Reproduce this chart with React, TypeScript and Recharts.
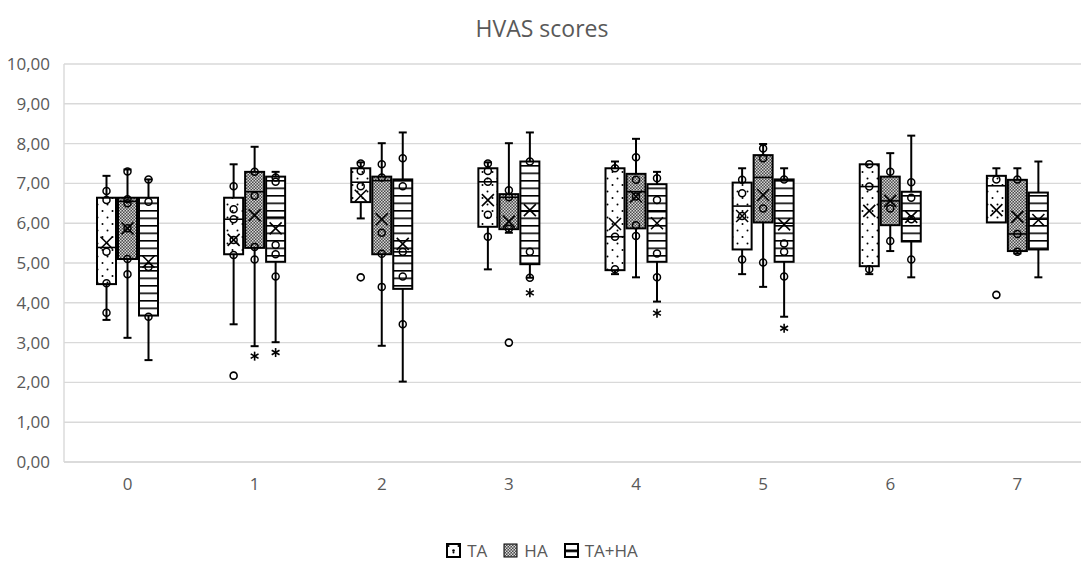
import React from 'react';
import { ComposedChart, Bar, XAxis, YAxis, CartesianGrid, Legend } from 'recharts';

const CATEGORIES = ['0', '1', '2', '3', '4', '5', '6', '7'];
const Y_TICKS = [0, 1, 2, 3, 4, 5, 6, 7, 8, 9, 10];
const SERIES_NAMES = ['TA', 'HA', 'TA+HA'];

// [min, q1, median, q3, max, mean]
const TA_STATS = [
  [3.57, 4.47, 5.39, 6.64, 7.19, 5.51],
  [3.46, 5.22, 6.1, 6.64, 7.48, 5.58],
  [6.12, 6.53, 7.03, 7.38, 7.53, 6.69],
  [4.84, 5.91, 7.04, 7.38, 7.53, 6.58],
  [4.72, 4.82, 5.66, 7.38, 7.55, 5.98],
  [4.72, 5.34, 6.43, 7.02, 7.38, 6.18],
  [4.72, 4.92, 6.92, 7.48, 7.48, 6.31],
  [6.02, 6.02, 6.94, 7.19, 7.38, 6.33],
];
const HA_STATS = [
  [3.12, 5.1, 6.55, 6.64, 7.35, 5.87],
  [2.91, 5.38, 6.79, 7.29, 7.92, 6.2],
  [2.92, 5.22, 7.07, 7.17, 8.01, 6.1],
  [5.76, 5.85, 6.65, 6.73, 8.01, 6.04],
  [4.64, 5.87, 6.79, 7.24, 8.12, 6.67],
  [4.4, 6.02, 7.15, 7.71, 7.99, 6.71],
  [5.3, 5.95, 6.56, 7.17, 7.76, 6.56],
  [5.24, 5.3, 5.73, 7.09, 7.38, 6.16],
];
const TAHA_STATS = [
  [2.56, 3.68, 4.9, 6.64, 7.1, 5.03],
  [3.01, 5.03, 6.15, 7.17, 7.29, 5.87],
  [2.02, 4.35, 5.28, 7.1, 8.28, 5.48],
  [4.63, 4.97, 6.3, 7.55, 8.28, 6.33],
  [4.03, 5.03, 6.29, 6.98, 7.29, 6.0],
  [3.65, 5.03, 6.0, 7.1, 7.38, 5.97],
  [4.64, 5.54, 6.1, 6.79, 8.2, 6.16],
  [4.64, 5.34, 6.1, 6.77, 7.55, 6.08],
];

const TA_POINTS = [
  [6.81, 6.58, 5.28, 4.49, 3.75],
  [6.93, 6.35, 6.1, 5.58, 5.2],
  [7.5, 7.31, 6.93],
  [7.5, 7.31, 7.04, 6.21, 5.66],
  [7.38, 5.66, 4.84],
  [7.09, 6.75, 6.18, 5.09],
  [7.48, 6.92, 4.84],
  [7.1],
];
const HA_POINTS = [
  [7.3, 6.6, 6.5, 5.87, 5.1, 4.72],
  [7.29, 6.69, 5.4, 5.09],
  [7.48, 7.15, 5.76, 5.23, 4.4],
  [6.83, 6.65, 5.86],
  [7.66, 7.09, 6.67, 5.95, 5.68],
  [7.88, 7.63, 6.37, 5.01],
  [7.29, 6.37, 5.55],
  [7.1, 5.73, 5.28],
];
const TAHA_POINTS = [
  [7.1, 6.54, 4.9, 3.65],
  [7.15, 7.04, 5.45, 5.22, 4.66],
  [7.63, 6.93, 5.28, 4.66, 3.46],
  [7.55, 5.28, 4.63],
  [7.13, 6.58, 5.24, 4.64],
  [7.1, 5.49, 5.28, 4.66],
  [7.03, 6.64, 6.1, 5.09],
  [],
];

const TA_OUTLIERS = [[], [2.17], [4.64], [], [], [], [], [4.2]];
const HA_OUTLIERS = [[], [], [], [3.0], [], [], [], []];
const TAHA_OUTLIERS = [[], [], [], [], [], [], [], []];

const TA_STARS = [[], [], [], [], [], [], [], []];
const HA_STARS = [[], [2.66], [], [], [], [], [], []];
const TAHA_STARS = [[], [2.75], [], [4.25], [3.74], [3.36], [], []];

const FONT = '"Open Sans", "Noto Sans", sans-serif';
const GRID = '#d9d9d9';
const TEXT = '#595959';

const rows = CATEGORIES.map((cat, i) => ({ cat, i }));

function makeBoxShape(
  stats: number[][],
  points: number[][],
  outliers: number[][],
  stars: number[][],
  fill: string
) {
  return (props: any) => {
    const { x, y, width, height, payload } = props;
    const i = payload.i;
    const [mn, q1, med, q3, mx, mean] = stats[i];
    const top = Math.min(y, y + height);
    const h = Math.abs(height);
    const ppu = h / (q3 - q1);
    const Y = (v: number) => top + (q3 - v) * ppu;
    const cx = x + width / 2;
    const cap = 4;
    const m = 6;
    return (
      <g>
        {mx > q3 && (
          <g>
            <line x1={cx} x2={cx} y1={Y(mx)} y2={Y(q3)} stroke="#000" strokeWidth={2} />
            <line x1={cx - cap} x2={cx + cap} y1={Y(mx)} y2={Y(mx)} stroke="#000" strokeWidth={2} />
          </g>
        )}
        {mn < q1 && (
          <g>
            <line x1={cx} x2={cx} y1={Y(q1)} y2={Y(mn)} stroke="#000" strokeWidth={2} />
            <line x1={cx - cap} x2={cx + cap} y1={Y(mn)} y2={Y(mn)} stroke="#000" strokeWidth={2} />
          </g>
        )}
        <rect x={x} y={top} width={width} height={h} fill={fill} stroke="#000" strokeWidth={2} />
        <line x1={x} x2={x + width} y1={Y(med)} y2={Y(med)} stroke="#000" strokeWidth={1.6} />
        <g stroke="#000" strokeWidth={1.6}>
          <line x1={cx - m} x2={cx + m} y1={Y(mean) - m} y2={Y(mean) + m} />
          <line x1={cx - m} x2={cx + m} y1={Y(mean) + m} y2={Y(mean) - m} />
        </g>
        {points[i].map((v, k) => (
          <circle key={'p' + k} cx={cx} cy={Y(v)} r={3.5} fill="none" stroke="#000" strokeWidth={1.5} />
        ))}
        {outliers[i].map((v, k) => (
          <circle key={'o' + k} cx={cx} cy={Y(v)} r={3.5} fill="#fff" stroke="#000" strokeWidth={1.6} />
        ))}
        {stars[i].map((v, k) => {
          const cy = Y(v);
          const r = 4.5;
          return (
            <g key={'s' + k} stroke="#000" strokeWidth={1.6}>
              <line x1={cx} x2={cx} y1={cy - r} y2={cy + r} />
              <line x1={cx - r * 0.87} x2={cx + r * 0.87} y1={cy - r / 2} y2={cy + r / 2} />
              <line x1={cx - r * 0.87} x2={cx + r * 0.87} y1={cy + r / 2} y2={cy - r / 2} />
            </g>
          );
        })}
      </g>
    );
  };
}

const PatternDefs = ({ prefix }: { prefix: string }) => (
  <defs>
    <pattern id={prefix + 'TA'} width="10" height="13" patternUnits="userSpaceOnUse">
      <rect width="10" height="13" fill="#fff" />
      <circle cx="2.5" cy="3" r="1" fill="#000" />
      <circle cx="7.5" cy="9.5" r="1" fill="#000" />
    </pattern>
    <pattern id={prefix + 'HA'} width="3" height="3" patternUnits="userSpaceOnUse">
      <rect width="3" height="3" fill="#4a4a4a" />
      <rect x="0" y="0" width="1.5" height="1.5" fill="#d8d8d8" />
      <rect x="1.5" y="1.5" width="1.5" height="1.5" fill="#d8d8d8" />
    </pattern>
    <pattern id={prefix + 'TAHA'} width="8" height="7.5" patternUnits="userSpaceOnUse">
      <rect width="8" height="7.5" fill="#fff" />
      <rect x="0" y="0" width="8" height="1.6" fill="#000" />
    </pattern>
  </defs>
);

const LegendIcon = ({ k }: { k: number }) => {
  const id = ['lgTA', 'lgHA', 'lgTAHA'][k];
  return (
    <svg width={15} height={15} style={{ marginRight: 6, display: 'block' }}>
      <PatternDefs prefix="lg" />
      <rect x={1} y={1} width={13} height={13} fill={`url(#${id})`} stroke="#000" strokeWidth={k === 1 ? 1 : 2} />
      {k === 0 && <circle cx={7.5} cy={7.5} r={1.3} fill="#000" />}
      {k === 2 && <line x1={1} x2={14} y1={7.5} y2={7.5} stroke="#000" strokeWidth={2} />}
    </svg>
  );
};

const LegendContent = () => (
  <div
    style={{
      display: 'flex',
      justifyContent: 'center',
      alignItems: 'center',
      height: 24,
      fontFamily: FONT,
      fontSize: 17,
      color: TEXT,
    }}
  >
    {SERIES_NAMES.map((n, k) => (
      <div key={n} style={{ display: 'flex', alignItems: 'center', marginLeft: k === 0 ? 0 : 16 }}>
        <LegendIcon k={k} />
        <span>{n}</span>
      </div>
    ))}
  </div>
);

const fmt = (v: number) => v.toFixed(2).replace('.', ',');

export default function App() {
  return (
    <div style={{ position: 'absolute', left: 0, top: 0, width: 1084, height: 570, background: '#fff' }}>
      <div
        style={{
          position: 'absolute',
          top: 13,
          left: 0,
          width: 1084,
          textAlign: 'center',
          fontFamily: FONT,
          fontSize: 23,
          lineHeight: '30px',
          color: TEXT,
        }}
      >
        HVAS scores
      </div>
      <ComposedChart
        width={1084}
        height={570}
        data={rows}
        margin={{ top: 64, right: 3, left: 0, bottom: 44 }}
        barGap={2}
      >
        <PatternDefs prefix="c" />
        <CartesianGrid vertical={false} stroke={GRID} strokeWidth={1.4} />
        <XAxis
          dataKey="cat"
          type="category"
          height={40}
          axisLine={{ stroke: GRID, strokeWidth: 1.4 }}
          tickLine={false}
          tickMargin={10}
          tick={{ fill: TEXT, fontSize: 17, fontFamily: FONT }}
        />
        <YAxis
          type="number"
          domain={[0, 10]}
          ticks={Y_TICKS}
          interval={0}
          width={64}
          tickFormatter={fmt}
          axisLine={{ stroke: GRID, strokeWidth: 1.4 }}
          tickLine={false}
          tickMargin={8}
          tick={{ fill: TEXT, fontSize: 17, fontFamily: FONT }}
        />
        <Legend
          verticalAlign="bottom"
          content={() => <LegendContent />}
          wrapperStyle={{ top: 538, left: 0, width: 1084, bottom: 'auto' }}
        />
        <Bar
          name={SERIES_NAMES[0]}
          dataKey={(r: any) => [TA_STATS[r.i][1], TA_STATS[r.i][3]]}
          barSize={19}
          isAnimationActive={false}
          shape={makeBoxShape(TA_STATS, TA_POINTS, TA_OUTLIERS, TA_STARS, 'url(#cTA)')}
        />
        <Bar
          name={SERIES_NAMES[1]}
          dataKey={(r: any) => [HA_STATS[r.i][1], HA_STATS[r.i][3]]}
          barSize={19}
          isAnimationActive={false}
          shape={makeBoxShape(HA_STATS, HA_POINTS, HA_OUTLIERS, HA_STARS, 'url(#cHA)')}
        />
        <Bar
          name={SERIES_NAMES[2]}
          dataKey={(r: any) => [TAHA_STATS[r.i][1], TAHA_STATS[r.i][3]]}
          barSize={19}
          isAnimationActive={false}
          shape={makeBoxShape(TAHA_STATS, TAHA_POINTS, TAHA_OUTLIERS, TAHA_STARS, 'url(#cTAHA)')}
        />
      </ComposedChart>
    </div>
  );
}
